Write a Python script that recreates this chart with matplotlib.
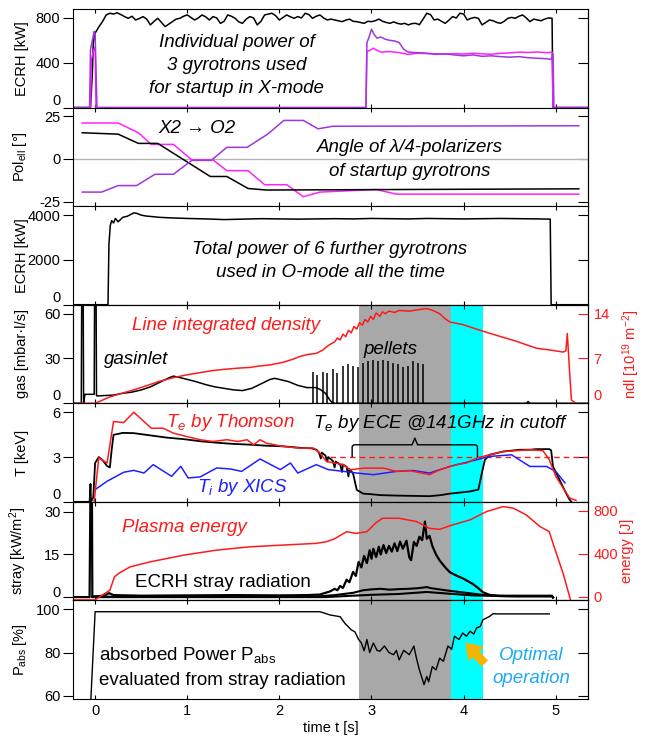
import numpy as np
import matplotlib
matplotlib.use('Agg')
import matplotlib.pyplot as plt

plt.rcParams['font.family'] = ['Liberation Sans', 'DejaVu Sans']
plt.rcParams['mathtext.fontset'] = 'custom'
plt.rcParams['mathtext.rm'] = 'Liberation Sans'
plt.rcParams['mathtext.it'] = 'Liberation Sans:italic'
plt.rcParams['mathtext.default'] = 'regular'
plt.rcParams['axes.unicode_minus'] = False
plt.rcParams['font.size'] = 10.5

# ---- panel 1: individual power of 3 startup gyrotrons [kW]
ecrh1_start_t = [-0.24, -0.05, -0.03, -0.02, 0.0, 0.04, 0.08]
ecrh1_start_v = [0, 0, 300, 575, 664, 720, 767]
ecrh1_t = np.arange(0.12, 4.97, 0.04)
ecrh1_v = [827, 842, 835, 846, 830, 812, 797, 815, 782, 795,
           812, 790, 738, 770, 797, 760, 723, 745, 767, 790,
           797, 815, 827, 805, 782, 800, 827, 810, 782, 812,
           800, 752, 770, 827, 815, 797, 765, 752, 790, 812,
           800, 738, 770, 827, 835, 842, 820, 782, 805, 827,
           810, 797, 812, 800, 842, 830, 797, 815, 827, 800,
           782, 790, 782, 775, 767, 780, 790, 770, 767, 760,
           752, 770, 767, 775, 790, 770, 760, 752, 765, 752,
           745, 752, 738, 750, 752, 740, 790, 842, 830, 782,
           790, 770, 752, 780, 812, 800, 842, 835, 782, 797,
           805, 797, 738, 760, 782, 775, 760, 752, 770, 797,
           805, 797, 815, 827, 800, 767, 790, 782, 775, 790,
           800, 797]
ecrh1_end_t = [4.97, 5.35]
ecrh1_end_v = [0, 0]

gyro_purple = [(-0.24, 0), (-0.06, 0), (-0.05, 520), (-0.03, 600), (-0.01, 680), (0.0, 660),
               (0.02, 0), (2.94, 0), (2.95, 580), (2.97, 620), (3.0, 700), (3.03, 650),
               (3.06, 620), (3.1, 630), (3.15, 610), (3.2, 600), (3.25, 595), (3.3, 580),
               (3.35, 520), (3.4, 495), (3.5, 490), (3.6, 485), (3.7, 475), (3.8, 480),
               (3.9, 470), (4.0, 462), (4.1, 470), (4.2, 458), (4.3, 462), (4.4, 455),
               (4.5, 450), (4.6, 455), (4.7, 445), (4.8, 440), (4.9, 436), (4.95, 430),
               (4.97, 480), (4.98, 0), (5.35, 0)]
gyro_magenta = [(-0.24, 0), (-0.05, 0), (-0.04, 430), (-0.02, 500), (0.0, 540), (0.01, 0),
                (2.94, 0), (2.95, 500), (2.98, 510), (3.02, 530), (3.05, 515), (3.1, 495),
                (3.2, 500), (3.3, 490), (3.4, 475), (3.5, 485), (3.6, 482), (3.7, 480),
                (3.8, 476), (3.9, 482), (4.0, 478), (4.1, 485), (4.2, 480), (4.3, 476),
                (4.4, 484), (4.5, 488), (4.6, 495), (4.7, 492), (4.8, 496), (4.9, 490),
                (4.96, 495), (4.97, 0), (5.35, 0)]

# ---- panel 2: polarizer angles [deg]
pol_magenta = [(-0.14, 21), (0.25, 21), (0.47, 15.3), (0.61, 8.5), (0.85, 8.5), (1.05, -0.5),
               (1.28, -0.5), (1.43, -6.8), (1.66, -6.8), (1.84, -15), (2.08, -15), (2.26, -22),
               (2.44, -19.3), (3.05, -17.8), (3.27, -20.5), (5.25, -20.5)]
pol_black = [(-0.14, 15.3), (0.25, 14.5), (0.47, 9.1), (0.68, 9.1), (1.25, -10.2), (1.43, -10.2),
             (1.66, -17.2), (1.86, -18.1), (5.25, -17.4)]
pol_purple = [(-0.14, -19.3), (0.07, -19.3), (0.25, -15.5), (0.45, -15.5), (0.65, -8.9),
              (0.85, -8.9), (1.05, -0.8), (1.26, -0.8), (1.43, 6.8), (1.65, 6.8), (1.87, 14.4),
              (2.05, 22.5), (2.26, 22.5), (2.42, 17.6), (2.58, 19.1), (5.25, 19.4)]

# ---- panel 3: total power of 6 O-mode gyrotrons [kW]
ecrh_tot = [(-0.24, 0), (0.14, 0), (0.15, 2700), (0.165, 3550), (0.18, 3750), (0.2, 3650),
            (0.22, 3850), (0.25, 3700), (0.3, 3900), (0.35, 3950), (0.42, 4100), (0.45, 4080),
            (0.5, 4000), (0.55, 3960), (0.6, 3940), (0.7, 3900), (0.8, 3880), (1.0, 3850),
            (1.2, 3830), (1.4, 3800), (1.6, 3820), (1.8, 3840), (2.0, 3830), (2.2, 3820),
            (2.4, 3830), (2.6, 3840), (2.8, 3830), (3.0, 3850), (3.2, 3840), (3.4, 3830),
            (3.6, 3850), (3.8, 3840), (4.0, 3830), (4.2, 3840), (4.4, 3850), (4.6, 3840),
            (4.8, 3830), (4.94, 3820), (4.95, 0), (5.35, 0)]

# ---- panel 4: gas inlet [mbar l/s], pellets, line integrated density [1e19 m^-2]
gas = [(-0.24, 0), (-0.15, 0), (-0.145, 80), (-0.13, 80), (-0.125, 0), (-0.11, 6), (-0.01, 6),
       (-0.005, 80), (0.01, 80), (0.015, 5), (0.05, 5), (0.2, 5.5), (0.3, 6.7), (0.4, 7.5),
       (0.5, 8.9), (0.6, 11), (0.7, 14), (0.8, 17), (0.85, 18.2), (0.9, 17.5), (1.0, 16),
       (1.1, 14.4), (1.2, 12.5), (1.3, 11), (1.4, 10), (1.5, 9), (1.6, 8.5), (1.7, 10),
       (1.8, 13), (1.9, 16), (1.95, 16.7), (2.0, 16), (2.1, 14.5), (2.2, 12), (2.3, 10.5),
       (2.4, 10.5), (2.45, 9), (2.5, 6.7), (2.55, 2), (2.58, 0), (4.68, 0), (4.7, 1.2),
       (4.72, 0), (5.35, 0)]
pellet_t = [2.36, 2.41, 2.47, 2.52, 2.58, 2.63, 2.69, 2.74, 2.80, 2.85, 2.91, 2.96,
            3.02, 3.07, 3.12, 3.18, 3.23, 3.29, 3.34, 3.40, 3.45, 3.51, 3.56]
pellet_h = [21, 19, 21, 20, 23, 20, 25, 26, 25, 24, 27, 28, 29, 28, 29, 28, 27, 26, 24, 25, 28, 27, 26]
ndl = [(-0.24, 0), (0.0, 0), (0.05, 0.3), (0.16, 1.0), (0.3, 1.6), (0.42, 2.1), (0.55, 2.7),
       (0.69, 3.4), (0.85, 4.0), (0.98, 4.4), (1.1, 4.7), (1.27, 5.1), (1.4, 5.3), (1.56, 5.5),
       (1.68, 5.6), (1.77, 5.8), (1.9, 6.0), (2.04, 6.4), (2.15, 6.9), (2.22, 7.3), (2.3, 7.6),
       (2.40, 7.8), (2.47, 8.3), (2.51, 8.8), (2.55, 9.2), (2.6, 9.6), (2.63, 10.2), (2.66, 9.9),
       (2.69, 10.8), (2.72, 10.4), (2.75, 11.4), (2.78, 11.0), (2.81, 12.0), (2.84, 11.6),
       (2.87, 12.6), (2.9, 12.2), (2.93, 13.1), (2.96, 12.7), (2.99, 13.6), (3.02, 13.1),
       (3.05, 14.1), (3.09, 13.6), (3.12, 14.3), (3.15, 14.0), (3.19, 14.4), (3.25, 14.2),
       (3.3, 14.5), (3.41, 14.4), (3.5, 14.6), (3.59, 14.8), (3.65, 14.6), (3.74, 14.0),
       (3.8, 13.2), (3.85, 12.7), (3.99, 12.3), (4.18, 11.4), (4.36, 10.6), (4.57, 9.7),
       (4.79, 8.6), (4.95, 8.3), (5.08, 8.0), (5.11, 8.2), (5.125, 10.9), (5.135, 8.6),
       (5.15, 5.0), (5.17, 0.5), (5.22, 0)]

# ---- panel 5: temperatures [keV]
te_ece = [(-0.24, 0), (-0.06, 0), (-0.05, 1.2), (-0.045, 0), (-0.02, 0.3), (0.0, 2.6), (0.04, 3.0),
          (0.08, 2.8), (0.13, 2.4), (0.16, 2.3), (0.18, 3.5), (0.2, 4.49), (0.25, 4.55), (0.3, 4.62),
          (0.42, 4.6), (0.6, 4.45), (0.78, 4.3), (0.96, 4.2), (1.14, 4.06), (1.32, 3.96), (1.5, 3.88),
          (1.68, 3.83), (1.86, 3.76), (2.04, 3.72), (2.22, 3.62), (2.35, 3.58), (2.4, 3.5),
          (2.43, 3.3), (2.45, 2.9), (2.46, 3.3), (2.5, 3.1), (2.52, 2.7), (2.53, 3.0), (2.58, 2.75),
          (2.6, 2.3), (2.61, 2.7), (2.66, 2.5), (2.68, 2.0), (2.69, 2.5), (2.73, 2.35), (2.75, 1.7),
          (2.76, 2.2), (2.8, 1.9), (2.84, 0.8), (2.91, 0.55), (2.98, 0.52), (3.1, 0.45), (3.27, 0.42),
          (3.45, 0.4), (3.63, 0.38), (3.75, 0.45), (3.85, 0.55), (4.0, 0.65), (4.07, 0.7),
          (4.16, 0.82), (4.19, 1.7), (4.23, 2.8), (4.28, 3.15), (4.43, 3.37), (4.61, 3.49),
          (4.72, 3.49), (4.79, 3.53), (4.93, 3.53), (4.95, 3.45), (4.97, 2.37), (5.04, 1.49),
          (5.11, 0.6), (5.15, 0.15), (5.17, 0)]
te_thomson = [(-0.01, 0.05), (0.04, 2.95), (0.13, 2.6), (0.2, 5.38), (0.31, 5.31), (0.42, 6.0),
              (0.61, 4.93), (0.74, 4.93), (0.85, 4.6), (0.99, 4.38), (1.14, 4.16), (1.28, 4.04),
              (1.43, 4.16), (1.55, 4.04), (1.65, 4.16), (1.72, 3.82), (1.79, 4.16), (1.86, 3.93),
              (2.04, 3.71), (2.22, 3.6), (2.37, 3.6), (2.44, 3.27), (2.51, 2.71), (2.6, 2.6),
              (2.69, 2.5), (2.77, 2.15), (2.92, 2.26), (3.13, 2.26), (3.27, 2.04), (3.41, 2.1),
              (3.63, 1.82), (3.74, 2.15), (3.92, 2.49), (4.03, 2.6), (4.14, 2.93), (4.28, 3.15),
              (4.43, 3.37), (4.57, 3.43), (4.72, 3.49), (4.86, 3.43), (4.93, 2.82), (5.0, 1.71),
              (5.08, 0.93), (5.15, 0.26), (5.22, 0.1)]
ti_xics = [(0.0, 0.82), (0.13, 1.38), (0.31, 1.98), (0.42, 2.11), (0.53, 1.93), (0.63, 2.49),
           (0.83, 1.71), (0.93, 2.38), (1.01, 1.6), (1.14, 1.67), (1.32, 2.27), (1.47, 2.2),
           (1.59, 2.04), (1.79, 2.87), (2.01, 2.16), (2.12, 2.6), (2.2, 1.93), (2.4, 2.49),
           (2.53, 2.16), (2.7, 2.04), (2.84, 1.93), (3.02, 1.82), (3.27, 2.04), (3.45, 2.1),
           (3.63, 1.93), (3.85, 2.37), (4.07, 2.71), (4.28, 3.04), (4.52, 3.15), (4.72, 2.37),
           (4.9, 2.37), (5.0, 2.04), (5.1, 1.27)]
te_cutoff = 3.0

# ---- panel 6: stray radiation [kW/m^2] and plasma energy [J]
stray_main = [(-0.24, 0.1), (-0.06, 0.1), (-0.05, 40), (-0.035, 40), (-0.03, 0.3), (0.1, 0.6),
              (0.15, 1.5), (0.2, 0.8), (0.5, 0.6), (1.0, 0.7), (1.5, 0.8), (2.0, 0.7), (2.3, 0.8),
              (2.44, 1.0), (2.5, 1.6), (2.55, 2.1), (2.6, 3.0), (2.63, 2.5), (2.66, 4.0), (2.69, 3.3),
              (2.73, 6.2), (2.76, 5.3), (2.8, 8.9), (2.83, 7.5), (2.86, 12.4), (2.89, 10.5),
              (2.92, 14.5), (2.95, 12.0), (2.98, 16.5), (3.0, 13.5), (3.02, 17.0), (3.05, 14.1),
              (3.08, 17.7), (3.1, 15.0), (3.13, 18.3), (3.16, 15.5), (3.19, 18.0), (3.22, 16.0),
              (3.25, 18.9), (3.28, 16.2), (3.31, 19.5), (3.34, 17.0), (3.38, 19.8), (3.41, 14.0),
              (3.43, 13.0), (3.46, 19.4), (3.49, 18.0), (3.52, 21.2), (3.55, 20.0), (3.58, 26.5),
              (3.6, 20.5), (3.63, 21.5), (3.66, 18.0), (3.7, 15.0), (3.74, 12.9), (3.8, 10.5),
              (3.85, 8.8), (3.93, 7.5), (4.0, 6.5), (4.1, 4.7), (4.16, 3.2), (4.21, 1.8),
              (4.28, 0.9), (4.36, 0.5), (4.6, 0.4), (4.96, 0.4), (4.97, 0)]
stray_2 = [(-0.03, 0.2), (0.5, 0.3), (2.4, 0.3), (2.6, 0.8), (2.8, 1.6), (2.91, 2.5), (3.0, 2.8),
           (3.1, 3.0), (3.2, 2.7), (3.3, 2.9), (3.4, 3.0), (3.5, 3.2), (3.6, 3.6), (3.65, 3.2),
           (3.8, 2.5), (4.0, 1.7), (4.2, 0.9), (4.4, 0.6), (4.96, 0.6), (4.97, 0)]
stray_3 = [(-0.03, 0.1), (2.5, 0.1), (2.8, 0.6), (3.0, 0.9), (3.3, 1.2), (3.6, 1.9), (3.8, 1.4),
           (4.1, 0.7), (4.5, 0.4), (4.96, 0.4), (4.97, 0)]
energy = [(-0.24, -30), (0.0, -30), (0.05, 0), (0.16, 59), (0.21, 184), (0.26, 220), (0.38, 278),
          (0.6, 325), (0.96, 387), (1.32, 434), (1.68, 465), (2.04, 481), (2.4, 497), (2.51, 512),
          (2.6, 540), (2.73, 606), (2.83, 590), (2.95, 606), (3.05, 690), (3.12, 731), (3.3, 731),
          (3.49, 700), (3.63, 637), (3.74, 628), (3.88, 669), (4.07, 716), (4.25, 794),
          (4.43, 840), (4.54, 825), (4.68, 762), (4.83, 653), (4.93, 606), (4.97, 497),
          (5.08, 216), (5.16, -30)]

# ---- panel 7: absorbed power [%]
pabs = [(-0.05, 55), (-0.01, 90), (0.0, 98.8), (2.44, 98.8), (2.5, 98.0), (2.55, 97.3),
        (2.66, 96.5), (2.71, 93.5), (2.78, 90.5), (2.82, 89.5), (2.86, 86), (2.89, 84.4),
        (2.92, 80.8), (2.95, 86), (2.98, 80), (3.02, 84.4), (3.06, 81), (3.09, 80.6), (3.14, 83),
        (3.19, 80), (3.24, 79), (3.27, 81), (3.3, 76.6), (3.35, 81), (3.41, 79), (3.46, 83),
        (3.49, 77), (3.52, 72), (3.55, 68), (3.57, 65.2), (3.6, 69), (3.62, 66.5), (3.66, 73.5),
        (3.7, 72), (3.74, 77.4), (3.78, 76), (3.83, 83), (3.87, 81.5), (3.9, 87.5), (3.95, 86),
        (3.99, 89), (4.03, 87.5), (4.07, 89.8), (4.11, 88.5), (4.14, 91.3), (4.18, 92),
        (4.21, 95.1), (4.28, 96.6), (4.32, 97.9), (4.36, 97.8), (4.93, 97.8)]

pellet_phase = (2.86, 3.86)
optimal_phase = (3.86, 4.21)


def xy(pts):
    a = np.array(pts, dtype=float)
    return a[:, 0], a[:, 1]


RED = '#ff1a1a'
PURPLE = '#a035e0'
MAGENTA = '#ff20ff'
BLUE = '#2020ff'
NOTE = 13.5

fig, axs = plt.subplots(7, 1, figsize=(6.52, 7.38), dpi=100, sharex=True,
                        gridspec_kw={'hspace': 0})
fig.subplots_adjust(left=73 / 652, right=588 / 652, top=1 - 9 / 738, bottom=1 - 699 / 738)

ylims = [(0, 880), (-27.5, 30), (0, 4400), (0, 66), (0, 6.6), (-1.06, 33.4), (58.6, 104)]
yticks = [[0, 400, 800], [-25, 0, 25], [0, 2000, 4000], [0, 30, 60], [0, 3, 6],
          [0, 15, 30], [60, 80, 100]]
ylabels = ['ECRH [kW]', 'Pol$_{ell}$ [°]', 'ECRH [kW]', 'gas [mbar·l/s]', 'T [keV]',
           'stray [kW/m$^2$]', 'P$_{abs}$ [%]']

for i, ax in enumerate(axs):
    ax.set_xlim(-0.24, 5.35)
    ax.set_ylim(*ylims[i])
    ax.set_yticks(yticks[i])
    ax.set_xticks(range(6))
    ax.tick_params(axis='x', direction='in', top=True, bottom=True, length=3, width=0.8)
    ax.tick_params(axis='y', direction='out', length=7, width=0.8, left=True, right=False, pad=2)
    ax.set_ylabel(ylabels[i])
    ax.yaxis.set_label_coords(-0.085, 0.5)
    # bottom tick label sits on the spine, so lift it like in the original
    if ylims[i][0] == yticks[i][0]:
        ax.yaxis.get_major_ticks()[0].label1.set_verticalalignment('bottom')
    elif i == 5:
        ax.yaxis.get_major_ticks()[0].label1.set_verticalalignment('baseline')
    for s in ax.spines.values():
        s.set_linewidth(0.8)
    if i not in (3, 5):
        sec = ax.secondary_yaxis('right')
        sec.set_yticks(yticks[i])
        sec.tick_params(direction='in', length=7, width=0.8, labelright=False)
        sec.spines['right'].set_linewidth(0.8)
    if i >= 3:
        ax.axvspan(*pellet_phase, color='#a8a8a8', lw=0, zorder=0)
        ax.axvspan(*optimal_phase, color='#00ffff', lw=0, zorder=0)

# panel 1
ax = axs[0]
ax.plot(ecrh1_start_t + list(ecrh1_t) + ecrh1_end_t, ecrh1_start_v + ecrh1_v + ecrh1_end_v,
        color='k', lw=1.1)
ax.plot(*xy(gyro_magenta), color=MAGENTA, lw=1.1)
ax.plot(*xy(gyro_purple), color=PURPLE, lw=1.1)
ax.text(0.318, 0.426, 'Individual power of\n3 gyrotrons used\nfor startup in X-mode',
        transform=ax.transAxes, ha='center', va='center', style='italic', fontsize=NOTE,
        linespacing=1.45)

# panel 2
ax = axs[1]
ax.axhline(0, color='#b4b4b4', lw=1, zorder=1)
ax.plot(*xy(pol_magenta), color=MAGENTA, lw=1.1)
ax.plot(*xy(pol_black), color='k', lw=1.1)
ax.plot(*xy(pol_purple), color=PURPLE, lw=1.1)
ax.text(0.241, 0.787, 'X2 → O2', transform=ax.transAxes, ha='center', va='center',
        style='italic', fontsize=NOTE)
ax.text(0.654, 0.472, 'Angle of λ/4-polarizers\nof startup gyrotrons', transform=ax.transAxes,
        ha='center', va='center', style='italic', fontsize=NOTE, linespacing=1.5)

# panel 3
ax = axs[2]
ax.plot(*xy(ecrh_tot), color='k', lw=1.1)
ax.text(0.499, 0.44, 'Total power of 6 further gyrotrons\nused in O-mode all the time',
        transform=ax.transAxes, ha='center', va='center', style='italic', fontsize=NOTE,
        linespacing=1.45)

# panel 4
ax = axs[3]
ax.plot(*xy(gas), color='k', lw=1.1)
ax.vlines(pellet_t, 0, pellet_h, color='k', lw=1.1)
tw = ax.twinx()
tw.plot(*xy(ndl), color=RED, lw=1.1)
tw.set_ylim(0, 15.4)
tw.set_yticks([0, 7, 14])
tw.tick_params(axis='y', colors=RED, direction='in', length=7, width=0.8, pad=4)
tw.yaxis.get_major_ticks()[0].label2.set_verticalalignment('bottom')
tw.spines['right'].set_color('k')
tw.set_ylabel('ndl [10$^{19}$ m$^{-2}$]', color=RED)
tw.yaxis.set_label_coords(1.062, 0.5)
ax.text(0.297, 0.79, 'Line integrated density', transform=ax.transAxes, ha='center',
        va='center', style='italic', fontsize=NOTE, color=RED)
ax.text(0.122, 0.44, 'gasinlet', transform=ax.transAxes, ha='center', va='center',
        style='italic', fontsize=NOTE)
ax.text(0.617, 0.55, 'pellets', transform=ax.transAxes, ha='center', va='center',
        style='italic', fontsize=NOTE)

# panel 5
ax = axs[4]
ax.plot([2.55, 5.35], [te_cutoff, te_cutoff], color=RED, lw=1, ls=(0, (4, 3)))
ax.plot(*xy(te_ece), color='k', lw=1.3)
ax.plot(*xy(ti_xics), color=BLUE, lw=1.1)
ax.plot(*xy(te_thomson), color=RED, lw=1.1)
ax.plot([2.79, 2.79, 2.81, 3.44, 3.47, 3.50, 4.13, 4.15, 4.15],
        [3.05, 3.72, 3.82, 3.82, 4.27, 3.82, 3.82, 3.72, 3.05], color='k', lw=1)
ax.text(0.305, 0.81, 'T$_\\mathit{e}$ by Thomson', transform=ax.transAxes, ha='center',
        va='center', style='italic', fontsize=NOTE, color=RED)
ax.text(0.715, 0.80, 'T$_\\mathit{e}$ by ECE @141GHz in cutoff', transform=ax.transAxes,
        ha='center', va='center', style='italic', fontsize=NOTE)
ax.text(0.328, 0.15, 'T$_\\mathit{i}$ by XICS', transform=ax.transAxes, ha='center',
        va='center', style='italic', fontsize=NOTE, color=BLUE)

# panel 6
ax = axs[5]
ax.plot(*xy(stray_3), color='k', lw=1.5)
ax.plot(*xy(stray_2), color='k', lw=1.5)
ax.plot(*xy(stray_main), color='k', lw=1.6)
tw = ax.twinx()
tw.plot(*xy(energy), color=RED, lw=1.1)
tw.set_ylim(-35, 884)
tw.set_yticks([0, 400, 800])
tw.tick_params(axis='y', colors=RED, direction='in', length=7, width=0.8, pad=4)
tw.spines['right'].set_color('k')
tw.set_ylabel('energy [J]', color=RED)
tw.yaxis.set_label_coords(1.062, 0.5)
ax.text(0.216, 0.735, 'Plasma energy', transform=ax.transAxes, ha='center', va='center',
        style='italic', fontsize=NOTE, color=RED)
ax.text(0.291, 0.184, 'ECRH stray radiation', transform=ax.transAxes, ha='center',
        va='center', fontsize=NOTE)

# panel 7
ax = axs[6]
ax.plot(*xy(pabs), color='k', lw=1.0)
ax.text(0.05, 0.323, 'absorbed Power P$_{abs}$\nevaluated from stray radiation',
        transform=ax.transAxes, ha='left', va='center', fontsize=NOTE, linespacing=1.5)
ax.text(0.889, 0.323, 'Optimal\noperation', transform=ax.transAxes, ha='center',
        va='center', style='italic', fontsize=NOTE, color='#1eaaf0', linespacing=1.5)
ax.annotate('', xy=(4.0, 85.5), xytext=(4.25, 74),
            arrowprops=dict(arrowstyle='simple,head_width=1.1,head_length=0.8,tail_width=0.45',
                            color='#f5b400', lw=0, mutation_scale=14))
ax.set_xticklabels([str(v) for v in range(6)])
ax.set_xlabel('time t [s]', labelpad=2)

fig.savefig('out.png', dpi=100)
